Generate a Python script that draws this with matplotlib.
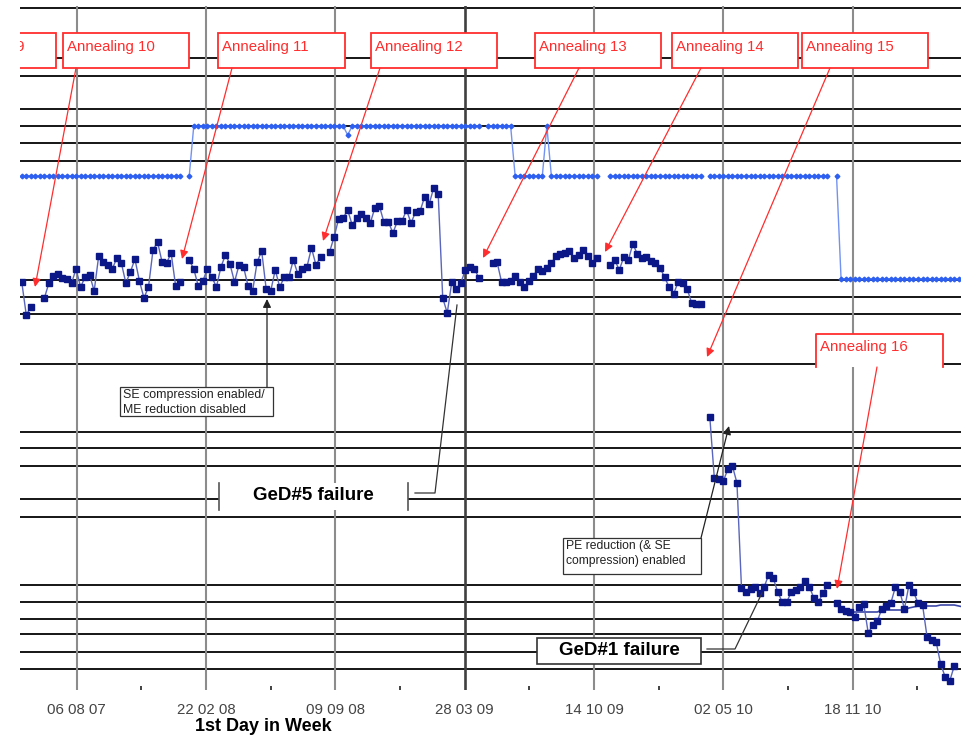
import numpy as np
import pandas as pd
import matplotlib
matplotlib.use("Agg")
import matplotlib.pyplot as plt
import matplotlib.transforms as mtransforms
from matplotlib.patches import Rectangle, FancyArrowPatch
from matplotlib.lines import Line2D

plt.rcParams['font.family'] = ['Liberation Sans', 'DejaVu Sans']

nan = np.nan

# weekly values, first week starts 13 May 2007
FIRST_WEEK = "2007-05-13"

# detector trend (dark squares); gaps are the annealing weeks
DETECTOR = [
    408, 375, 383, nan, nan, 392, 407, 414, 416, 412,
    411, 407, 421, 403, 413, 415, 399, 434, 428, 425,
    421, 432, 427, 407, 418, 431, 409, 392, 403, 440,
    448, 428, 427, 437, 404, 408, nan, 430, 421, 404,
    409, 421, 413, 403, 423, 435, 426, 408, 425, 423,
    404, 399, 428, 439, 401, 399, 420, 403, 413, 413,
    430, 416, 421, 423, 442, 425, 433, nan, 438, 453,
    471, 472, 480, 465, 472, 476, 472, 467, 482, 484,
    468, 468, 457, 469, 469, 480, 467, 478, 479, 493,
    486, 502, 496, 392, 377, 408, 401, 407, 420, 423,
    421, 412, nan, nan, 427, 428, 408, 408, 409, 414,
    408, 403, 409, 414, 421, 419, 422, 427, 434, 436,
    437, 439, 432, 435, 440, 434, 427, 432, nan, nan,
    425, 430, 420, 433, 430, 446, 436, 432, 433, 429,
    427, 422, 413, 403, 396, 408, 407, 401, 387, 386,
    386, nan, 273, 212, 211, 209, 221, 224, 207, 102,
    98, 101, 103, 97, 103, 115, 112, 98, 88, 88,
    98, 100, 103, 109, 103, 92, 88, 97, 105, nan,
    87, 81, 79, 78, 73, 83, 86, 57, 65, 69,
    81, 84, 87, 103, 98, 81, 105, 98, 87, 85,
    53, 50, 48, 26, 13, 9, 24,
]

# configuration level (light blue steps)
SETTING = ([514] * 36 + [nan] + [514] + [564] * 34 + [555] + [564] * 29 + [nan]
           + [564] * 6 + [514] * 7 + [564] + [514] * 11 + [nan] * 2 + [514] * 21
           + [nan] + [514] * 27 + [nan] + [514] + [411] * 28)

# second detector line, no markers
TREND_START = "2010-11-14"
TREND = [78, 78, 78, 78, 78, 78, 78, 80, 80, 80, 80, 80, 80,
         82, 83, 84, 84, 84, 84, 84, 85, 85, 85, 85, 84, 83]

TICK_DATES = ["2007-08-06", "2008-02-22", "2008-09-09", "2009-03-28",
              "2009-10-14", "2010-05-02", "2010-11-18"]

# horizontal reference lines
LEVELS = [682, 632, 614, 581, 564, 547, 529, 410, 393, 376, 326,
          258, 242, 224, 191, 173, 105, 88, 71, 56, 38, 21]

ANNEAL_LABELS = ["Annealing 9", "Annealing 10", "Annealing 11", "Annealing 12",
                 "Annealing 13", "Annealing 14", "Annealing 15", "Annealing 16"]

W, H = 962, 735
RED = '#ff2d2d'

fig = plt.figure(figsize=(W / 100, H / 100), dpi=100)
ax = fig.add_axes([20 / W, (H - 690) / H, 942 / W, 684 / H])
pix = mtransforms.Affine2D().scale(1 / W, -1 / H).translate(0, 1) + fig.transFigure

weeks = pd.date_range(FIRST_WEEK, periods=len(DETECTOR), freq='7D')
weeks_set = pd.date_range(FIRST_WEEK, periods=len(SETTING), freq='7D')
weeks_trend = pd.date_range(TREND_START, periods=len(TREND), freq='7D')
ticks = pd.to_datetime(TICK_DATES)

ax.set_ylim(0, 684)
ax.set_xlim(ticks[0] - pd.Timedelta(days=87.7), ticks[0] + pd.Timedelta(days=1369))

for lv in LEVELS:
    ax.axhline(lv, color='#151515', lw=1.4, zorder=1)
for i, d in enumerate(ticks):
    dark = (i == 3)
    ax.axvline(d, color='#404040' if dark else '#8c8c8c', lw=1.9 if dark else 1.5, zorder=1.2)

ax.set_xticks(ticks)
ax.set_xticklabels([d.strftime('%d %m %y') for d in ticks])
ax.set_xticks(ticks + pd.Timedelta(days=100), minor=True)
ax.tick_params(axis='x', which='major', length=0, pad=9, labelsize=10.8, labelcolor='#444444')
ax.tick_params(axis='x', which='minor', length=3, width=1.3, color='#333333', direction='in')
ax.tick_params(axis='y', left=False, labelleft=False)
for s in ax.spines.values():
    s.set_visible(False)

# series
ax.plot(weeks_set, SETTING, color='#7393f2', lw=1.0, marker='D', ms=2.4,
        mfc='#2d5ff0', mec='#2d5ff0', zorder=3)
ax.plot(weeks_trend, TREND, color='#3b47a6', lw=1.2, zorder=3.5)
ax.plot(weeks, DETECTOR, color='#5a66bc', lw=1.0, marker='s', ms=4.2,
        mfc='#0b1787', mec='#0b1787', zorder=4)


def rect(x0, y0, x1, y1, edge, lw, fill='white', z=5):
    ax.add_patch(Rectangle((x0, y0), x1 - x0, y1 - y0, transform=pix,
                           facecolor=fill, edgecolor=edge, lw=lw, zorder=z))


def poly(xs, ys, color, lw, z=6):
    ax.add_line(Line2D(xs, ys, transform=pix, color=color, lw=lw, zorder=z))


def arrow(p0, p1, color, lw=0.9, head=True):
    style = '-|>,head_length=0.45,head_width=0.22' if head else '-'
    ax.add_patch(FancyArrowPatch(p0, p1, transform=pix, arrowstyle=style,
                                 mutation_scale=11, color=color, lw=lw,
                                 shrinkA=0, shrinkB=0, zorder=7))


# annealing call-outs (pixel positions; the first box runs off the left edge)
box_left = [-60, 63, 218, 371, 535, 672, 802, 816]
box_right = [56, 189, 345, 497, 661, 798, 928, 943]
box_top = [33, 33, 33, 33, 33, 33, 33, 334]
arrow_from = [None, (76, 68), (232, 68), (380, 68), (579, 68), (701, 68), (830, 68), (877, 367)]
arrow_to = [None, (35, 287), (182, 259), (323, 241), (483, 258), (605, 252), (707, 357), (837, 589)]
for label, x0, x1, y0, a0, a1 in zip(ANNEAL_LABELS, box_left, box_right, box_top,
                                     arrow_from, arrow_to):
    if label == "Annealing 16":
        rect(x0, y0, x1, y0 + 33, 'none', 0)
        poly([x0, x0, x1, x1], [y0 + 33, y0, y0, y0 + 33], RED, 1.3)
    else:
        rect(x0, y0, x1, y0 + 34.5, RED, 1.3)
    ax.text(x0 + 4.5, y0 + 17.5, label, transform=pix, color=RED, fontsize=10.8,
            va='baseline', ha='left', zorder=6, clip_on=True)
    if a0 is not None:
        arrow(a0, a1, RED)

# SE compression note
rect(120, 387, 273, 416.5, '#333333', 0.9)
ax.text(123, 389, "SE compression enabled/\nME reduction disabled", transform=pix,
        fontsize=8.9, color='#222222', va='top', ha='left', linespacing=1.3, zorder=6)
arrow((267, 387), (267, 299), '#222222', lw=0.9)

# GeD#5 failure label
rect(219, 483, 408, 510, 'none', 0)
poly([219, 219], [483, 510], '#555555', 1.2)
poly([408, 408], [483, 510], '#555555', 1.2)
ax.text(313, 496, "GeD#5 failure", transform=pix, fontsize=13.5, fontweight='bold',
        ha='center', va='center', zorder=6)
poly([415, 435, 457], [493, 493, 305], '#333333', 0.9)

# PE reduction note
rect(563, 538, 701, 574, '#333333', 0.9)
ax.text(566, 540, "PE reduction (& SE\ncompression) enabled", transform=pix,
        fontsize=8.7, color='#222222', va='top', ha='left', linespacing=1.3, zorder=6)
arrow((701, 538), (729, 426), '#222222', lw=0.9)

# GeD#1 failure label
rect(537, 638, 701, 664, '#333333', 1.2)
ax.text(619, 651, "GeD#1 failure", transform=pix, fontsize=13.5, fontweight='bold',
        ha='center', va='center', zorder=6)
poly([707, 735, 762], [649, 649, 593], '#333333', 0.9)

fig.text(263 / W, 1 - 731 / H, "1st Day in Week", ha='center', va='baseline',
         fontsize=13, fontweight='bold')

fig.savefig('out.png', dpi=100)
